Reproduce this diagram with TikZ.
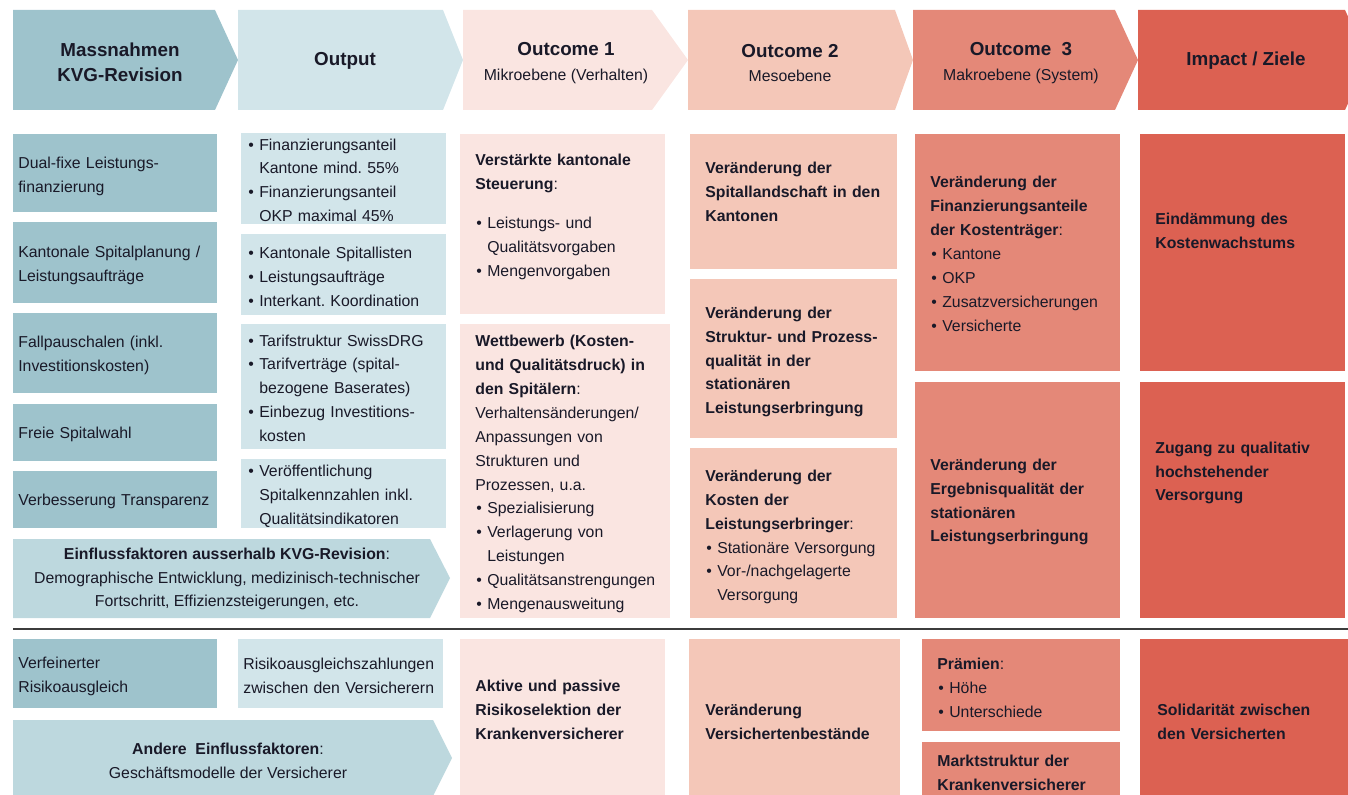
\documentclass[tikz,border=0pt]{standalone}
\usepackage{fontspec}
\setmainfont{Liberation Sans}
\usetikzlibrary{positioning}
\frenchspacing

\definecolor{massn}{RGB}{158,195,204}
\definecolor{outp}{RGB}{210,229,234}
\definecolor{einfl}{RGB}{189,216,222}
\definecolor{ocmikro}{RGB}{250,229,225}
\definecolor{ocmeso}{RGB}{244,199,184}
\definecolor{ocmakro}{RGB}{228,136,120}
\definecolor{impact}{RGB}{220,97,82}
\definecolor{ink}{RGB}{25,25,40}
\definecolor{sepline}{RGB}{60,60,60}

% bullet item with hanging indent
\newcommand{\bitem}[1]{\par\noindent\hangindent=6.8pt\hangafter=1\hbox to 6.8pt{\hskip0.6pt\textbullet\hss}#1\par}

\tikzset{
  txt/.style = {anchor = west, inner sep = 0pt, align = left, text width = 5cm,
                font = \fontsize{9}{13.6}\selectfont, text = ink},
  btxt/.style = {txt, font = \fontsize{9}{13.6}\selectfont\bfseries},
  hdr/.style = {align = center, inner sep = 0pt,
                font = \fontsize{10.7}{14.2}\selectfont\bfseries, text = ink},
  ctr/.style = {align = center, inner sep = 0pt,
                font = \fontsize{9}{13.6}\selectfont, text = ink}
}

\begin{document}
\begin{tikzpicture}[x = 0.02cm, y = -0.02cm]
	\clip (0, 0) rectangle (1348, 794);

	% Header chevrons
	\foreach \xa/\xb/\xt/\col in {13/215/238/massn, 238/443/463/outp, 463/652/688/ocmikro,
	                              688/895/913/ocmeso, 913/1115/1138/ocmakro, 1138/1345/1368/impact}
		\fill[\col] (\xa, 10) -- (\xb, 10) -- (\xt, 60) -- (\xb, 110) -- (\xa, 110) -- cycle;

	\node[hdr] (hmass) at (120, 62) {Massnahmen\\KVG-Revision};
	\node[hdr] (houtp) at (345, 61) {Output};
	\node[hdr] (hoc1) at (566, 63) {Outcome 1\\{\fontsize{9}{14.2}\selectfont\mdseries Mikroebene (Verhalten)}};
	\node[hdr] (hoc2) at (790, 63) {Outcome 2\\{\fontsize{9}{14.2}\selectfont\mdseries Mesoebene}};
	\node[hdr] (hoc3) at (1021, 63) {Outcome~~3\\{\fontsize{9}{14.2}\selectfont\mdseries Makroebene (System)}};
	\node[hdr] (himp) at (1246, 61) {Impact / Ziele};

	% Massnahmen boxes
	\foreach \ya/\yb in {134/212, 222/303, 313/393, 404/461, 471/528}
		\fill[massn] (13, \ya) rectangle (217, \yb);
	\node[txt] (m1) at (18, 176) {Dual-fixe Leistungs-\\finanzierung};
	\node[txt] (m2) at (18, 265) {Kantonale Spitalplanung /\\Leistungsaufträge};
	\node[txt] (m3) at (18, 355) {Fallpauschalen (inkl.\\Investitionskosten)};
	\node[txt] (m4) at (18, 434) {Freie Spitalwahl};
	\node[txt] (m5) at (18, 501) {Verbesserung Transparenz};

	% Output boxes
	\foreach \ya/\yb in {133/224, 234/315, 324/449, 459/528}
		\fill[outp] (241, \ya) rectangle (446, \yb);
	\node[txt] (o1) at (247, 174) {\bitem{Finanzierungsanteil\newline Kantone mind. 55\%}\bitem{Finanzierungsanteil\newline OKP maximal 45\%}};
	\node[txt] (o2) at (247, 271) {\bitem{Kantonale Spitallisten}\bitem{Leistungsaufträge}\bitem{Interkant. Koordination}};
	\node[txt] (o3) at (247, 382) {\bitem{Tarifstruktur SwissDRG}\bitem{Tarifverträge (spital-\newline bezogene Baserates)}\bitem{Einbezug Investitions-\newline kosten}};
	\node[txt] (o4) at (247, 490) {\bitem{Veröffentlichung\newline Spitalkennzahlen inkl.\newline Qualitätsindikatoren}};

	% Einflussfaktoren
	\fill[einfl] (13, 539) -- (430, 539) -- (450, 578) -- (430, 618) -- (13, 618) -- cycle;
	\node[ctr] (einfl) at (227, 579) {{\bfseries Einflussfaktoren ausserhalb KVG-Revision}:\\Demographische Entwicklung, medizinisch-technischer\\Fortschritt, Effizienzsteigerungen, etc.};

	% Outcome 1
	\fill[ocmikro] (460, 134) rectangle (665, 314);
	\fill[ocmikro] (460, 324) rectangle (670, 618);
	\node[txt] (oa1) at (475, 217) {{\bfseries Verstärkte kantonale\\Steuerung}:\par\vspace{0.3cm}\bitem{Leistungs- und\newline Qualitätsvorgaben}\bitem{Mengenvorgaben}};
	\node[txt] (oa2) at (475, 474) {{\bfseries Wettbewerb (Kosten-\\und Qualitätsdruck) in\\den Spitälern}:\\Verhaltensänderungen/\\Anpassungen von\\Strukturen und\\Prozessen, u.a.\bitem{Spezialisierung}\bitem{Verlagerung von\newline Leistungen}\bitem{Qualitätsanstrengungen}\bitem{Mengenausweitung}};

	% Outcome 2
	\foreach \ya/\yb in {134/269, 279/438, 448/618}
		\fill[ocmeso] (690, \ya) rectangle (897, \yb);
	\node[btxt] (ob1) at (705, 192) {Veränderung der\\Spitallandschaft in den\\Kantonen};
	\node[btxt] (ob2) at (705, 362) {Veränderung der\\Struktur- und Prozess-\\qualität in der\\stationären\\Leistungserbringung};
	\node[txt] (ob3) at (705, 537) {{\bfseries Veränderung der\\Kosten der\\Leistungserbringer}:\bitem{Stationäre Versorgung}\bitem{Vor-/nachgelagerte\newline Versorgung}};

	% Outcome 3
	\fill[ocmakro] (915, 134) rectangle (1120, 371);
	\fill[ocmakro] (915, 382) rectangle (1120, 618);
	\node[txt] (oc1) at (930, 254) {{\bfseries Veränderung der\\Finanzierungsanteile\\der Kostenträger}:\bitem{Kantone}\bitem{OKP}\bitem{Zusatzversicherungen}\bitem{Versicherte}};
	\node[btxt] (oc2) at (930, 502) {Veränderung der\\Ergebnisqualität der\\stationären\\Leistungserbringung};

	% Impact / Ziele
	\fill[impact] (1140, 134) rectangle (1345, 371);
	\fill[impact] (1140, 382) rectangle (1345, 618);
	\node[btxt] (imp1) at (1155, 231) {Eindämmung des\\Kostenwachstums};
	\node[btxt] (imp2) at (1155, 473) {Zugang zu qualitativ\\hochstehender\\Versorgung};

	% Separator
	\draw[sepline, line width = 0.05cm] (13, 629) -- (1348, 629);

	% Risikoausgleich part
	\fill[massn] (13, 639) rectangle (217, 708);
	\fill[outp] (238, 639) rectangle (443, 708);
	\node[txt] (r1) at (18, 676) {Verfeinerter\\Risikoausgleich};
	\node[txt] (r2) at (243, 676) {Risikoausgleichszahlungen\\zwischen den Versicherern};
	\fill[einfl] (13, 720) -- (433, 720) -- (452, 758) -- (433, 796) -- (13, 796) -- cycle;
	\node[ctr] (andere) at (228, 761) {{\bfseries Andere~~Einflussfaktoren}:\\Geschäftsmodelle der Versicherer};

	\fill[ocmikro] (460, 639) rectangle (665, 800);
	\node[btxt] (r3) at (475, 710) {Aktive und passive\\Risikoselektion der\\Krankenversicherer};
	\fill[ocmeso] (689, 639) rectangle (900, 800);
	\node[btxt] (r4) at (705, 722) {Veränderung\\Versichertenbestände};
	\fill[ocmakro] (922, 639) rectangle (1120, 731);
	\fill[ocmakro] (922, 742) rectangle (1120, 800);
	\node[txt] (r5) at (937, 688) {{\bfseries Prämien}:\bitem{Höhe}\bitem{Unterschiede}};
	\node[btxt] (r6) at (937, 773) {Marktstruktur der\\Krankenversicherer};
	\fill[impact] (1140, 639) rectangle (1348, 800);
	\node[btxt] (r7) at (1157, 722) {Solidarität zwischen\\den Versicherten};

\end{tikzpicture}
\end{document}
